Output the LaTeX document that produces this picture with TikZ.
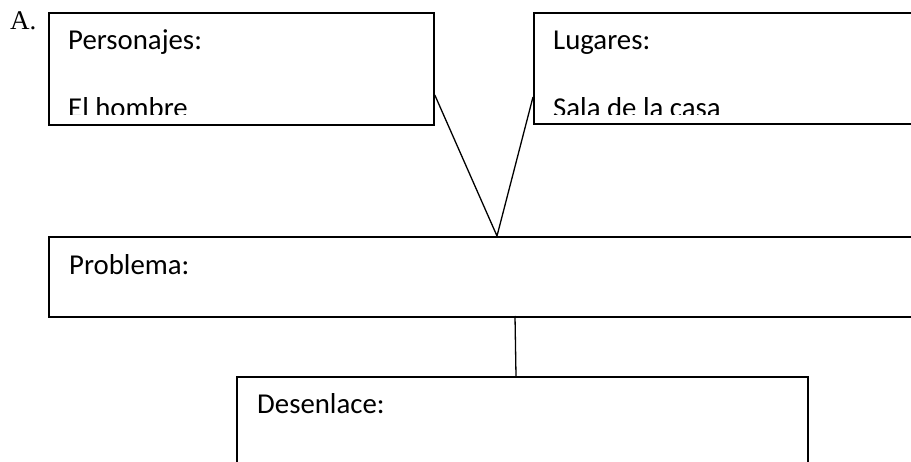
\documentclass[tikz,border=0pt]{standalone}
\usepackage{fontspec}
\setmainfont{Carlito}
\newfontfamily\serifA{Liberation Serif}
\usetikzlibrary{calc}
\begin{document}
\begin{tikzpicture}[x=1pt,y=1pt,
  boxst/.style={draw=black,line width=1.8pt,rectangle,inner sep=0pt,anchor=north west},
  txt/.style={anchor=base west,inner sep=0pt,font=\fontsize{28.8}{34}\selectfont},
  conn/.style={draw=black,line width=1.3pt}]
\useasboundingbox (0,0) rectangle (911,461);
\fill[white] (0,0) rectangle (911,461);
% boxes
\node[boxst,minimum width=385pt,minimum height=112pt] (b1) at (48,449) {};
\node[boxst,minimum width=400pt,minimum height=111pt] (b2) at (533,449) {};
\node[boxst,minimum width=890pt,minimum height=80pt] (b3) at (48,225) {};
\node[boxst,minimum width=571pt,minimum height=100pt] (b4) at (236,85) {};
% label A.
\node[anchor=base west,inner sep=0pt] (lblA) at (10,431) {\serifA\fontsize{27}{32}\selectfont A.};
% texts
\node[txt] (t1) at (68,411) {Personajes:};
\node[txt] (t2) at (553,411) {Lugares:};
\node[txt] (t3) at (69,186) {Problema:};
\node[txt] (t4) at (257,48) {Desenlace:};
\begin{scope}
  \clip (48,346) rectangle (433,449);
  \node[txt] (t1b) at (68,343) {El hombre};
\end{scope}
\begin{scope}
  \clip (533,346) rectangle (911,449);
  \node[txt] (t2b) at (553,343) {Sala de la casa};
\end{scope}
% connectors
\coordinate (c1) at (b1.east |- 0,366);
\coordinate (c2) at (b2.west |- 0,364);
\coordinate (apex) at (497,225);
\coordinate (c3) at (515,145);
\coordinate (c4) at (516,85);
\draw[conn] (c1) -- (apex) -- (c2);
\draw[conn] (c3) -- (c4);
\end{tikzpicture}
\end{document}
